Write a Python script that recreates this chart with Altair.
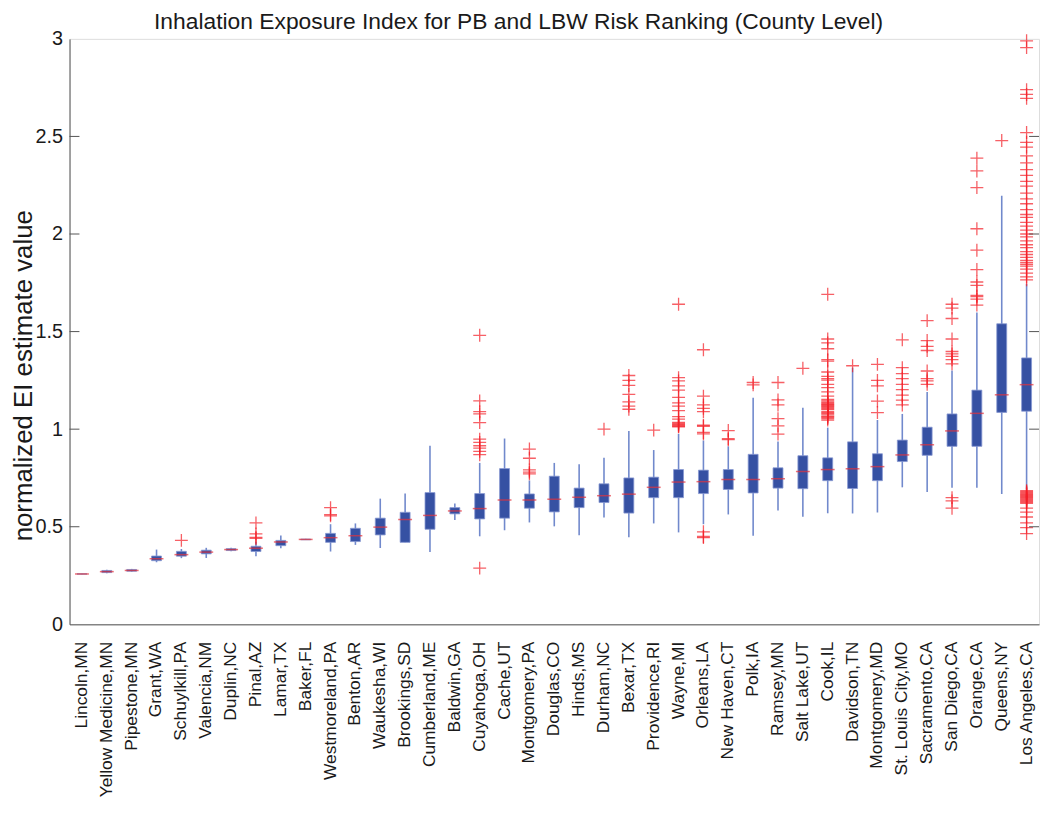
import altair as alt
import pandas as pd

counties = ["Lincoln,MN", "Yellow Medicine,MN", "Pipestone,MN", "Grant,WA", "Schuylkill,PA",
            "Valencia,NM", "Duplin,NC", "Pinal,AZ", "Lamar,TX", "Baker,FL", "Westmoreland,PA",
            "Benton,AR", "Waukesha,WI", "Brookings,SD", "Cumberland,ME", "Baldwin,GA",
            "Cuyahoga,OH", "Cache,UT", "Montgomery,PA", "Douglas,CO", "Hinds,MS", "Durham,NC",
            "Bexar,TX", "Providence,RI", "Wayne,MI", "Orleans,LA", "New Haven,CT", "Polk,IA",
            "Ramsey,MN", "Salt Lake,UT", "Cook,IL", "Davidson,TN", "Montgomery,MD",
            "St. Louis City,MO", "Sacramento,CA", "San Diego,CA", "Orange,CA", "Queens,NY",
            "Los Angeles,CA"]

q1 = [0.257, 0.265, 0.272, 0.326, 0.349, 0.361, 0.378, 0.373, 0.403, 0.433, 0.420, 0.424,
      0.458, 0.420, 0.487, 0.566, 0.540, 0.544, 0.595, 0.576, 0.598, 0.624, 0.570, 0.649,
      0.649, 0.670, 0.691, 0.673, 0.698, 0.695, 0.736, 0.696, 0.736, 0.834, 0.866, 0.912,
      0.912, 1.086, 1.092]
median = [0.258, 0.270, 0.276, 0.336, 0.357, 0.370, 0.383, 0.390, 0.422, 0.435, 0.444, 0.454,
          0.498, 0.537, 0.558, 0.581, 0.593, 0.637, 0.637, 0.641, 0.651, 0.659, 0.667, 0.702,
          0.729, 0.731, 0.742, 0.742, 0.746, 0.783, 0.793, 0.797, 0.808, 0.868, 0.920, 0.991,
          1.081, 1.176, 1.228]
q3 = [0.259, 0.276, 0.281, 0.350, 0.374, 0.380, 0.388, 0.400, 0.430, 0.437, 0.466, 0.492,
      0.544, 0.574, 0.675, 0.598, 0.670, 0.798, 0.668, 0.759, 0.698, 0.720, 0.750, 0.754,
      0.793, 0.790, 0.793, 0.871, 0.802, 0.864, 0.853, 0.935, 0.874, 0.944, 1.010, 1.078,
      1.200, 1.540, 1.365]
whisker_low = [0.257, 0.262, 0.270, 0.318, 0.339, 0.340, 0.374, 0.349, 0.390, 0.432, 0.373,
               0.407, 0.391, 0.420, 0.370, 0.534, 0.451, 0.482, 0.522, 0.502, 0.456, 0.547,
               0.446, 0.517, 0.471, 0.513, 0.563, 0.454, 0.583, 0.551, 0.569, 0.568, 0.573,
               0.702, 0.678, 0.700, 0.700, 0.668, 0.692]
whisker_high = [0.259, 0.279, 0.284, 0.383, 0.386, 0.392, 0.392, 0.425, 0.455, 0.438, 0.513,
                0.517, 0.644, 0.670, 0.915, 0.619, 0.827, 0.952, 0.737, 0.827, 0.820, 0.854,
                0.991, 0.893, 0.976, 0.942, 0.912, 1.161, 0.937, 1.110, 1.008, 1.315, 1.047,
                1.078, 1.191, 1.301, 1.598, 2.196, 1.744]
outliers = [
    [], [], [], [], [0.43], [], [], [0.52, 0.463, 0.446, 0.44], [], [],
    [0.598, 0.562, 0.556], [], [], [], [], [],
    [1.481, 1.145, 1.09, 1.078, 1.034, 0.949, 0.932, 0.915, 0.903, 0.886, 0.869, 0.288],
    [], [0.898, 0.851, 0.791, 0.78, 0.771], [], [], [1.0],
    [1.275, 1.25, 1.224, 1.178, 1.14, 1.118, 1.102],
    [0.995],
    [1.64, 1.264, 1.247, 1.222, 1.2, 1.163, 1.135, 1.118, 1.095, 1.064, 1.051, 1.035, 1.03,
     1.025, 1.02, 1.015, 1.012],
    [1.407, 1.169, 1.124, 1.107, 1.09, 1.02, 1.015, 0.983, 0.976, 0.474, 0.45, 0.444],
    [0.993, 0.951, 0.946],
    [1.239, 1.227],
    [1.239, 1.15, 1.124, 1.054, 1.017, 0.975],
    [1.312],
    [1.691, 1.462, 1.442, 1.412, 1.356, 1.349, 1.293, 1.271, 1.259, 1.251, 1.229, 1.213, 1.191,
     1.169, 1.152, 1.145, 1.138, 1.132, 1.127, 1.124, 1.12, 1.115, 1.11, 1.105, 1.1, 1.09,
     1.085, 1.08, 1.073, 1.066, 1.061, 1.055, 1.047],
    [1.325],
    [1.332, 1.25, 1.222, 1.144, 1.085],
    [1.458, 1.315, 1.285, 1.259, 1.23, 1.203, 1.174, 1.149, 1.124],
    [1.556, 1.454, 1.424, 1.403, 1.298, 1.259, 1.247, 1.23],
    [1.64, 1.62, 1.567, 1.462, 1.398, 1.386, 1.373, 1.356, 1.335, 0.649, 0.632, 0.595],
    [2.389, 2.323, 2.238, 2.027, 1.917, 1.818, 1.754, 1.737, 1.686, 1.679, 1.666, 1.636],
    [2.479],
    [2.99, 2.955, 2.74, 2.715, 2.695, 2.52, 2.47, 2.445, 2.40, 2.365, 2.33, 2.30, 2.27, 2.245,
     2.21, 2.18, 2.155, 2.125, 2.10, 2.085, 2.06, 2.04, 2.02, 2.0, 1.985, 1.965, 1.945, 1.93,
     1.91, 1.895, 1.88, 1.865, 1.855, 1.845, 1.835, 1.82, 1.80, 1.78, 1.765,
     0.685, 0.68, 0.675, 0.67, 0.665, 0.66, 0.655, 0.65, 0.645, 0.64, 0.635, 0.63, 0.625,
     0.62, 0.595, 0.575, 0.55, 0.52, 0.495, 0.465],
]
y_ticks = [0, 0.5, 1, 1.5, 2, 2.5, 3]
inner_ticks = [0.5, 1, 1.5, 2, 2.5]
title_text = ["Inhalation Exposure Index for PB and LBW Risk Ranking (County Level)"]

boxes = pd.DataFrame({"county": counties, "q1": q1, "median": median, "q3": q3,
                      "lo": whisker_low, "hi": whisker_high})
out_df = pd.DataFrame([{"county": c, "value": v}
                       for c, vals in zip(counties, outliers) for v in vals])
tick_df = pd.DataFrame({"t": inner_ticks})
title_df = pd.DataFrame({"label": title_text})

FONT = "Liberation Sans"
W, H = 977, 590

x_enc = alt.X("county:N", sort=counties, scale=alt.Scale(paddingInner=0, paddingOuter=0),
              axis=alt.Axis(title=None, labelAngle=-90, labelAlign="right",
                            labelBaseline="middle", labelFontSize=17.5, labelPadding=17,
                            tickSize=0, domainColor="#555555", labelColor="#1a1a1a",
                            labelFont=FONT, labelLimit=300))
y_scale = alt.Scale(domain=[0, 3], nice=False)

whiskers = alt.Chart(boxes).mark_rule(color="#7189cc", strokeWidth=1.6).encode(
    x=x_enc,
    y=alt.Y("lo:Q", scale=y_scale,
            axis=alt.Axis(values=y_ticks, format="~g", tickSize=0, labelFontSize=20,
                          labelPadding=7, labelFont=FONT, labelColor="#1a1a1a",
                          domainColor="#555555", grid=False,
                          title="normalized EI estimate value", titleFontSize=26,
                          titleFontWeight="normal", titleFont=FONT, titleColor="#1a1a1a",
                          titleX=-38, titleY=339, titleAngle=-90, titleAlign="center",
                          titleBaseline="alphabetic")),
    y2="hi:Q",
)
box = alt.Chart(boxes).mark_bar(size=10, color="#3651a3", stroke="#8797d2",
                                strokeWidth=0.8).encode(x=x_enc, y=alt.Y("q1:Q", scale=y_scale),
                                                        y2="q3:Q")
med = alt.Chart(boxes).mark_tick(color="#e3323c", size=14, thickness=1.5).encode(
    x=x_enc, y=alt.Y("median:Q", scale=y_scale))
pts = alt.Chart(out_df).mark_point(shape="M-1,0H1M0,-1V1", size=169, filled=False,
                                   stroke="#f41e26", strokeWidth=1.3, opacity=0.7).encode(
    x=x_enc, y=alt.Y("value:Q", scale=y_scale))

left_ticks = alt.Chart(tick_df).mark_rule(color="#555555", strokeWidth=1).encode(
    y=alt.Y("t:Q", scale=y_scale), x=alt.value(0), x2=alt.value(10))
right_ticks = alt.Chart(tick_df).mark_rule(color="#555555", strokeWidth=1).encode(
    y=alt.Y("t:Q", scale=y_scale), x=alt.value(W - 10), x2=alt.value(W))

title_mark = alt.Chart(title_df).mark_text(
    fontSize=23, font=FONT, color="#1a1a1a", align="center", baseline="alphabetic"
).encode(text="label:N", x=alt.value(W / 2 - 36), y=alt.value(-10))

chart = alt.layer(whiskers, box, med, pts, left_ticks, right_ticks, title_mark).properties(
    width=W, height=H,
    autosize=alt.AutoSizeParams(type="none"),
    padding={"left": 62, "top": 28, "right": 3, "bottom": 180},
).configure_view(stroke="#555555", strokeWidth=1).configure(background="white")

chart.save("out.html", embed_options={"renderer": "svg", "actions": False})
